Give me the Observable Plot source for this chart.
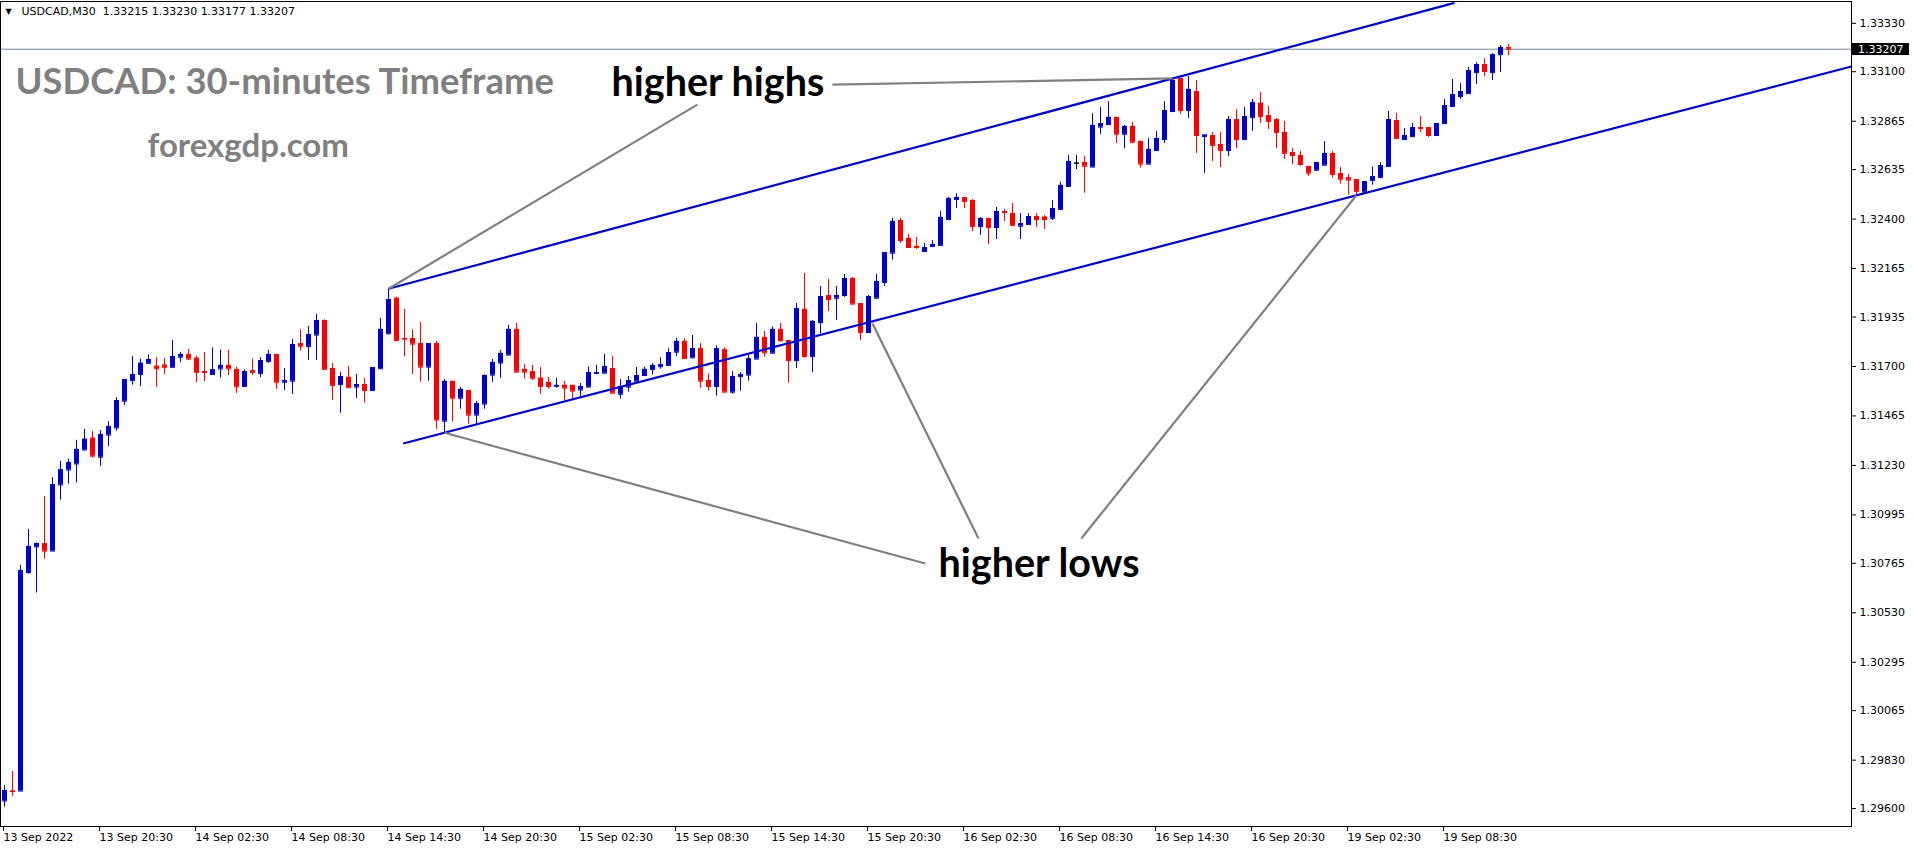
<!DOCTYPE html>
<html><head><meta charset="utf-8">
<script src="https://cdn.jsdelivr.net/npm/d3@7"></script>
<script src="https://cdn.jsdelivr.net/npm/@observablehq/plot@0.6"></script>
<style>
html,body{margin:0;padding:0;background:#fff;overflow:hidden;}
#chart svg{display:block;}
</style></head><body><div id="chart"></div>
<script>
// ---- data (USDCAD, M30) ----
const symbol = "USDCAD,M30";
const opens = [1.29636,1.29683,1.29683,1.30721,1.30843,1.30858,1.30823,1.31137,1.31208,1.31237,
1.31303,1.31359,1.31269,1.31374,1.31408,1.31535,1.31633,1.31662,1.31715,1.31701,
1.31706,1.31696,1.31744,1.31757,1.31739,1.31676,1.31662,1.31688,1.31705,1.31686,
1.31605,1.31679,1.31667,1.31723,1.31757,1.31625,1.31630,1.31809,1.31795,1.31849,
1.31918,1.31690,1.31614,1.31648,1.31602,1.31614,1.31586,1.31689,1.31855,1.32024,
1.31833,1.31833,1.31809,1.31697,1.31809,1.31440,1.31629,1.31549,1.31586,1.31469,
1.31521,1.31659,1.31716,1.31754,1.31876,1.31686,1.31676,1.31644,1.31624,1.31606,
1.31610,1.31610,1.31588,1.31602,1.31667,1.31668,1.31690,1.31568,1.31602,1.31630,
1.31657,1.31686,1.31699,1.31705,1.31768,1.31819,1.31741,1.31784,1.31633,1.31605,
1.31779,1.31578,1.31652,1.31659,1.31735,1.31838,1.31763,1.31876,1.31823,1.31728,
1.31971,1.31747,1.31909,1.32037,1.32024,1.32037,1.32118,1.31999,1.31861,1.32024,
1.32099,1.32238,1.32393,1.32308,1.32270,1.32246,1.32270,1.32275,1.32398,1.32493,
1.32502,1.32488,1.32365,1.32403,1.32360,1.32436,1.32426,1.32366,1.32374,1.32412,
1.32409,1.32404,1.32446,1.32555,1.32666,1.32669,1.32647,1.32837,1.32849,1.32883,
1.32803,1.32840,1.32769,1.32661,1.32726,1.32778,1.32911,1.33068,1.32916,1.33006,
1.32792,1.32797,1.32754,1.32726,1.32873,1.32778,1.32883,1.32950,1.32892,1.32873,
1.32811,1.32716,1.32702,1.32650,1.32632,1.32656,1.32711,1.32616,1.32596,1.32588,
1.32528,1.32583,1.32597,1.32650,1.32868,1.32778,1.32792,1.32835,1.32835,1.32797,
1.32854,1.32935,1.32982,1.32996,1.33096,1.33134,1.33096,1.33181,1.33215];
const highs = [1.29709,1.29776,1.30755,1.30926,1.30862,1.31082,1.31172,1.31249,1.31260,1.31349,
1.31401,1.31391,1.31396,1.31438,1.31552,1.31638,1.31747,1.31735,1.31756,1.31742,
1.31738,1.31823,1.31766,1.31781,1.31749,1.31766,1.31788,1.31778,1.31778,1.31696,
1.31684,1.31735,1.31742,1.31776,1.31757,1.31690,1.31828,1.31874,1.31890,1.31947,
1.31922,1.31714,1.31671,1.31700,1.31662,1.31643,1.31695,1.31928,1.32069,1.32029,
1.31971,1.31874,1.31909,1.31809,1.31820,1.31638,1.31629,1.31600,1.31586,1.31534,
1.31660,1.31733,1.31776,1.31895,1.31905,1.31709,1.31705,1.31695,1.31648,1.31644,
1.31629,1.31610,1.31619,1.31698,1.31705,1.31757,1.31747,1.31638,1.31652,1.31695,
1.31697,1.31713,1.31741,1.31784,1.31833,1.31831,1.31847,1.31809,1.31665,1.31798,
1.31789,1.31676,1.31671,1.31752,1.31904,1.31866,1.31888,1.31904,1.31823,1.31999,
1.32142,1.31918,1.32080,1.32113,1.32080,1.32137,1.32123,1.31999,1.32037,1.32137,
1.32241,1.32403,1.32403,1.32327,1.32313,1.32284,1.32298,1.32436,1.32503,1.32521,
1.32502,1.32493,1.32408,1.32403,1.32455,1.32446,1.32474,1.32426,1.32426,1.32426,
1.32417,1.32488,1.32576,1.32702,1.32702,1.32697,1.32900,1.32930,1.32958,1.32883,
1.32845,1.32859,1.32769,1.32783,1.32816,1.32958,1.33068,1.33068,1.33077,1.33058,
1.32799,1.32811,1.32811,1.32887,1.32920,1.32930,1.32968,1.33001,1.32935,1.32878,
1.32864,1.32735,1.32721,1.32650,1.32668,1.32768,1.32721,1.32645,1.32612,1.32588,
1.32578,1.32648,1.32668,1.32911,1.32901,1.32830,1.32854,1.32887,1.32835,1.32854,
1.32968,1.33063,1.33044,1.33120,1.33143,1.33162,1.33186,1.33224,1.33230];
const lows = [1.29607,1.29658,1.29683,1.30714,1.30624,1.30785,1.30823,1.31065,1.31141,1.31147,
1.31303,1.31265,1.31226,1.31320,1.31393,1.31515,1.31611,1.31605,1.31711,1.31600,
1.31662,1.31693,1.31718,1.31727,1.31623,1.31628,1.31657,1.31645,1.31657,1.31572,
1.31605,1.31657,1.31647,1.31716,1.31592,1.31586,1.31567,1.31773,1.31728,1.31728,
1.31686,1.31538,1.31478,1.31597,1.31548,1.31526,1.31586,1.31686,1.31852,1.31823,
1.31747,1.31662,1.31625,1.31630,1.31401,1.31385,1.31436,1.31497,1.31426,1.31424,
1.31497,1.31625,1.31644,1.31754,1.31668,1.31640,1.31633,1.31567,1.31592,1.31597,
1.31538,1.31546,1.31557,1.31602,1.31663,1.31668,1.31573,1.31545,1.31578,1.31630,
1.31657,1.31660,1.31687,1.31705,1.31747,1.31733,1.31738,1.31597,1.31583,1.31559,
1.31578,1.31568,1.31583,1.31630,1.31735,1.31744,1.31763,1.31815,1.31621,1.31690,
1.31741,1.31671,1.31855,1.31961,1.31918,1.32028,1.31996,1.31823,1.31861,1.32024,
1.32080,1.32205,1.32284,1.32260,1.32256,1.32241,1.32270,1.32275,1.32398,1.32450,
1.32450,1.32341,1.32322,1.32279,1.32303,1.32389,1.32365,1.32303,1.32374,1.32360,
1.32351,1.32393,1.32446,1.32552,1.32636,1.32523,1.32647,1.32803,1.32846,1.32759,
1.32735,1.32761,1.32642,1.32661,1.32721,1.32759,1.32906,1.32897,1.32878,1.32712,
1.32617,1.32674,1.32645,1.32697,1.32735,1.32778,1.32816,1.32854,1.32826,1.32735,
1.32683,1.32659,1.32651,1.32604,1.32632,1.32656,1.32594,1.32566,1.32513,1.32513,
1.32528,1.32561,1.32597,1.32645,1.32778,1.32773,1.32787,1.32811,1.32787,1.32797,
1.32849,1.32935,1.32968,1.32996,1.33039,1.33077,1.33058,1.33096,1.33177];
const closes = [1.29686,1.29681,1.30731,1.30845,1.30858,1.30823,1.31138,1.31209,1.31243,1.31306,
1.31354,1.31274,1.31376,1.31415,1.31538,1.31638,1.31662,1.31715,1.31733,1.31689,
1.31696,1.31747,1.31757,1.31735,1.31672,1.31671,1.31684,1.31705,1.31688,1.31603,
1.31676,1.31672,1.31728,1.31757,1.31625,1.31633,1.31804,1.31796,1.31852,1.31918,
1.31686,1.31610,1.31652,1.31599,1.31614,1.31586,1.31695,1.31876,1.32018,1.31823,
1.31830,1.31806,1.31697,1.31809,1.31445,1.31629,1.31549,1.31591,1.31469,1.31524,
1.31657,1.31719,1.31762,1.31876,1.31673,1.31673,1.31644,1.31605,1.31605,1.31610,
1.31597,1.31583,1.31605,1.31671,1.31671,1.31700,1.31573,1.31605,1.31633,1.31657,
1.31686,1.31705,1.31708,1.31766,1.31819,1.31738,1.31784,1.31630,1.31605,1.31784,
1.31578,1.31652,1.31660,1.31736,1.31838,1.31765,1.31876,1.31823,1.31728,1.31975,
1.31747,1.31914,1.32032,1.32018,1.32037,1.32118,1.31996,1.31861,1.32032,1.32103,
1.32241,1.32389,1.32298,1.32265,1.32265,1.32265,1.32279,1.32408,1.32498,1.32502,
1.32484,1.32365,1.32403,1.32360,1.32436,1.32431,1.32370,1.32379,1.32412,1.32398,
1.32398,1.32450,1.32560,1.32673,1.32666,1.32651,1.32845,1.32854,1.32883,1.32803,
1.32840,1.32765,1.32661,1.32731,1.32783,1.32916,1.33058,1.32916,1.33016,1.32797,
1.32799,1.32750,1.32726,1.32873,1.32778,1.32887,1.32954,1.32887,1.32864,1.32811,
1.32712,1.32702,1.32659,1.32618,1.32668,1.32711,1.32612,1.32589,1.32585,1.32532,
1.32578,1.32602,1.32654,1.32873,1.32783,1.32797,1.32835,1.32830,1.32797,1.32854,
1.32939,1.32992,1.33006,1.33106,1.33134,1.33101,1.33181,1.33215,1.33207];

const xTickBars = [0,12,24,36,48,60,72,84,96,108,120,132,144,156,168,180];
const xTickLabels = ["13 Sep 2022","13 Sep 20:30","14 Sep 02:30","14 Sep 08:30","14 Sep 14:30",
"14 Sep 20:30","15 Sep 02:30","15 Sep 08:30","15 Sep 14:30","15 Sep 20:30","16 Sep 02:30",
"16 Sep 08:30","16 Sep 14:30","16 Sep 20:30","19 Sep 02:30","19 Sep 08:30"];
const yTickValues = [1.33330,1.33100,1.32865,1.32635,1.32400,1.32165,1.31935,1.31700,1.31465,
1.31230,1.30995,1.30765,1.30530,1.30295,1.30065,1.29830,1.29600];

// channel lines (bar index, price)
const channelStartBars = [48, 49.84];
const channelStartPrices = [1.32069, 1.31334];
const channelEndBars = [181.25, 230.875];
const channelEndPrices = [1.33427, 1.33125];

// grey pointer lines (bar index, price)
const pointerFromBars = [103.5, 86.6, 115.1, 121.75, 134.6];
const pointerFromPrices = [1.33039, 1.32944, 1.30764, 1.30883, 1.30883];
const pointerToBars = [146, 48, 55, 108.5, 169];
const pointerToPrices = [1.33068, 1.32069, 1.31385, 1.31904, 1.32513];

// annotation texts
const noteTexts = ["higher highs", "higher lows"];
const noteBars = [75.875, 116.75];
const notePrices = [1.32984, 1.30698];
const titleTexts = ["USDCAD: 30-minutes Timeframe", "forexgdp.com"];
const titleBars = [1.375, 17.875];
const titlePrices = [1.32992, 1.32694];
const titleSizes = [36.4, 33];

// ---- build tables ----
const bars = opens.map((o, i) => ({i, o, h: highs[i], l: lows[i], c: closes[i]}));
const last = bars[bars.length - 1];
const candleColor = d => d.c > d.o ? "#0000cc" : d.c < d.o ? "#ff0000" : "#000000";
const channels = channelStartBars.map((b, k) => ({x1: b, y1: channelStartPrices[k], x2: channelEndBars[k], y2: channelEndPrices[k]}));
const pointers = pointerFromBars.map((b, k) => ({x1: b, y1: pointerFromPrices[k], x2: pointerToBars[k], y2: pointerToPrices[k]}));
const notes = noteTexts.map((t, k) => ({t, x: noteBars[k], y: notePrices[k]}));
const titles = titleTexts.map((t, k) => ({t, x: titleBars[k], y: titlePrices[k], s: titleSizes[k]}));
const half = 0.3125;

const plot = Plot.plot({
  width: 1916, height: 850,
  marginTop: 1, marginBottom: 24, marginLeft: 0, marginRight: 65,
  x: {domain: [-0.5, 230.875], axis: null},
  y: {domain: [1.295148, 1.334336], axis: null},
  color: {type: "identity"},
  style: {fontFamily: "DejaVu Sans", fontSize: "11px", background: "white", overflow: "visible", color: "black"},
  marks: [
    Plot.ruleY([last.c], {stroke: "#778899", strokeWidth: 1}),
    Plot.ruleX(bars, {x: "i", y1: "l", y2: "h", stroke: candleColor, strokeWidth: 1}),
    Plot.ruleX(bars, {x: "i", y1: "o", y2: "c", stroke: candleColor, strokeWidth: 5}),
    Plot.link(bars, {x1: d => d.i - half, x2: d => d.i + half, y1: "o", y2: "o", stroke: candleColor, strokeWidth: 1}),
    Plot.link(bars, {x1: d => d.i - half, x2: d => d.i + half, y1: "c", y2: "c", stroke: candleColor, strokeWidth: 1}),
    Plot.link(channels, {x1: "x1", y1: "y1", x2: "x2", y2: "y2", stroke: "#0000cc", strokeWidth: 2.2}),
    Plot.link(pointers, {x1: "x1", y1: "y1", x2: "x2", y2: "y2", stroke: "#808080", strokeWidth: 2.2}),
    Plot.text(titles, {x: "x", y: "y", text: "t", fontSize: d => d.s, fontFamily: "Lato", fontWeight: "bold", fill: "#808080", textAnchor: "start", lineAnchor: "bottom"}),
    Plot.text(notes, {x: "x", y: "y", text: "t", fontSize: 39.5, fontFamily: "Lato", fontWeight: "bold", fill: "black", textAnchor: "start", lineAnchor: "bottom"}),
    Plot.text(["\u25BC"], {frameAnchor: "top-left", dx: 5, dy: 7, fontSize: 8, textAnchor: "start", lineAnchor: "top", fill: "black"}),
    Plot.text([`${symbol}  ${last.o.toFixed(5)} ${last.h.toFixed(5)} ${last.l.toFixed(5)} ${last.c.toFixed(5)}`],
      {frameAnchor: "top-left", dx: 21, dy: 6, textAnchor: "start", lineAnchor: "top", fill: "black", fontSize: 11}),
    Plot.frame({stroke: "black"}),
    Plot.axisY({anchor: "right", ticks: yTickValues, tickFormat: d => d.toFixed(5), tickSize: 4, tickPadding: 4, textAnchor: "start", stroke: "black", fill: "black"}),
    Plot.axisX({anchor: "bottom", ticks: xTickBars, tickFormat: d => xTickLabels[xTickBars.indexOf(d)], tickSize: 5, tickPadding: 2, textAnchor: "start", dx: -1, stroke: "black", fill: "black"})
  ]
});

// current price tag on the right scale
const yPix = plot.scale("y").apply(last.c);
const svg = d3.select(plot);
const tag = svg.append("g");
tag.append("rect").attr("x", 1852).attr("y", Math.round(yPix) - 6).attr("width", 57).attr("height", 12).attr("fill", "black");
tag.append("text").attr("x", 1858).attr("y", Math.round(yPix)).attr("dy", "0.35em")
  .attr("text-anchor", "start").attr("fill", "white").attr("font-size", 11)
  .attr("font-family", "DejaVu Sans").text(last.c.toFixed(5));

document.getElementById("chart").appendChild(plot);
</script></body></html>
